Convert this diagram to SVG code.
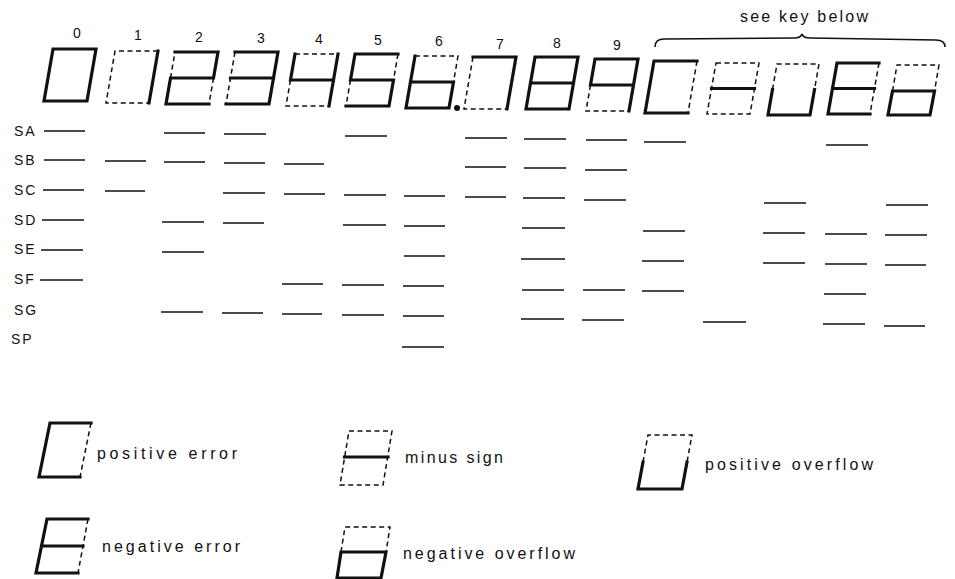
<svg xmlns="http://www.w3.org/2000/svg" width="955" height="579" viewBox="0 0 955 579">
<style>
  .on{fill:none;stroke:#111;stroke-width:3.2;stroke-linejoin:miter;stroke-linecap:square}
  .off{fill:none;stroke:#111;stroke-width:1.5;stroke-dasharray:5 3.5;stroke-linecap:butt}
  .row{stroke:#111;stroke-width:1.6;fill:none}
  .lbl{font-family:"Liberation Sans",Arial,sans-serif;font-size:14px;fill:#111;letter-spacing:2px}
  .num{font-family:"Liberation Sans",Arial,sans-serif;font-size:14px;fill:#111;text-anchor:middle}
  .key{font-family:"Liberation Sans",Arial,sans-serif;font-size:16px;fill:#111}
  .brace{fill:none;stroke:#111;stroke-width:1.6}
</style>
<rect width="955" height="579" fill="#fff"/>

<!-- column numbers -->
<g id="numbers">
  <text class="num" x="77" y="38">0</text>
  <text class="num" x="138" y="40">1</text>
  <text class="num" x="199" y="42">2</text>
  <text class="num" x="261" y="43">3</text>
  <text class="num" x="319" y="44">4</text>
  <text class="num" x="378" y="45">5</text>
  <text class="num" x="439" y="46">6</text>
  <text class="num" x="500" y="49">7</text>
  <text class="num" x="557" y="48">8</text>
  <text class="num" x="617" y="50">9</text>
</g>

<g id="see-key">
  <text class="key" x="740" y="22" font-size="15" textLength="128" lengthAdjust="spacing">see key below</text>
  <path class="brace" d="M655,47 Q655,39 664,39 L794,38 Q801,38 802,34 Q803,38 810,38 L936,40 Q945,40 945,47"/>
</g>

<!-- digits -->
<g id="digit-0" transform="translate(53,49)">
  <path class="on" d="M0,0 H43 L34,52 H-9 Z"/>
</g>
<g id="digit-1" transform="translate(115,51)">
  <path class="off" d="M43,0 H0 L-9,52 H34"/>
  <path class="on" d="M43,0 L34,52"/>
</g>
<g id="digit-2" transform="translate(175,52)">
  <path class="off" d="M-4.5,26 L0,0 M38.5,26 L34,52"/>
  <path class="on" d="M0,0 H43 L38.5,26 H-4.5 L-9,52 H34"/>
</g>
<g id="digit-3" transform="translate(235,52)">
  <path class="off" d="M0,0 L-9,52"/>
  <path class="on" d="M0,0 H43 L34,52 H-9 M-4.5,26 H38.5"/>
</g>
<g id="digit-4" transform="translate(295,54)">
  <path class="off" d="M0,0 H43 M-4.5,26 L-9,52 H34"/>
  <path class="on" d="M0,0 L-4.5,26 H38.5 M43,0 L34,52"/>
</g>
<g id="digit-5" transform="translate(355,54)">
  <path class="off" d="M43,0 L38.5,26 M-4.5,26 L-9,52"/>
  <path class="on" d="M43,0 H0 L-4.5,26 H38.5 L34,52 H-9"/>
</g>
<g id="digit-6" transform="translate(415,56)">
  <path class="off" d="M0,0 H43 L38.5,26"/>
  <path class="on" d="M0,0 L-9,52 H34 L38.5,26 H-4.5"/>
  <circle cx="42" cy="52" r="3" fill="#111"/>
</g>
<g id="digit-7" transform="translate(473,57)">
  <path class="off" d="M0,0 L-9,52 H34"/>
  <path class="on" d="M0,0 H43 L34,52"/>
</g>
<g id="digit-8" transform="translate(535,57)">
  <path class="on" d="M0,0 H43 L34,52 H-9 Z M-4.5,26 H38.5"/>
</g>
<g id="digit-9" transform="translate(595,59)">
  <path class="off" d="M-4.5,26 L-9,52 H34"/>
  <path class="on" d="M38.5,26 H-4.5 L0,0 H43 L34,52"/>
</g>
<g id="digit-pos-error" transform="translate(654,61)">
  <path class="off" d="M43,0 L34,52"/>
  <path class="on" d="M43,0 H0 L-9,52 H34"/>
</g>
<g id="digit-minus" transform="translate(716,63)">
  <path class="off" d="M0,0 H43 L34,51 H-9 Z"/>
  <path class="on" d="M-4.5,25.5 H38.5"/>
</g>
<g id="digit-pos-overflow" transform="translate(777,64)">
  <path class="off" d="M-4.5,25.5 L0,0 H42 L37.5,25.5"/>
  <path class="on" d="M-4.5,25.5 L-9,51 H33 L37.5,25.5"/>
</g>
<g id="digit-neg-error" transform="translate(837,63)">
  <path class="off" d="M42,0 L33,51"/>
  <path class="on" d="M42,0 H0 L-9,51 H33 M-4.5,25.5 H37.5"/>
</g>
<g id="digit-neg-overflow" transform="translate(897,65)">
  <path class="off" d="M-4.5,26 L0,0 H42 L37.5,26"/>
  <path class="on" d="M-4.5,26 H37.5 L33,50 H-9 Z"/>
</g>

<!-- row labels -->
<g id="row-labels">
  <text class="lbl" x="14" y="136">SA</text>
  <text class="lbl" x="14" y="165">SB</text>
  <text class="lbl" x="14" y="195">SC</text>
  <text class="lbl" x="14" y="225">SD</text>
  <text class="lbl" x="14" y="254">SE</text>
  <text class="lbl" x="14" y="284">SF</text>
  <text class="lbl" x="14" y="315">SG</text>
  <text class="lbl" x="11" y="344">SP</text>
</g>

<!-- segment table -->
<g id="table" class="row">
  <!-- col 0 -->
  <line x1="44" y1="131" x2="85" y2="131"/>
  <line x1="44" y1="160" x2="85" y2="160"/>
  <line x1="43" y1="190" x2="84" y2="190"/>
  <line x1="42" y1="220" x2="84" y2="220"/>
  <line x1="41" y1="250" x2="83" y2="250"/>
  <line x1="40" y1="280" x2="83" y2="280"/>
  <!-- col 1 -->
  <line x1="105" y1="161" x2="146" y2="161"/>
  <line x1="105" y1="191" x2="145" y2="191"/>
  <!-- col 2 -->
  <line x1="164" y1="133" x2="205" y2="133"/>
  <line x1="164" y1="162" x2="205" y2="162"/>
  <line x1="162" y1="222" x2="204" y2="222"/>
  <line x1="162" y1="252" x2="204" y2="252"/>
  <line x1="161" y1="312" x2="203" y2="312"/>
  <!-- col 3 -->
  <line x1="224" y1="134" x2="266" y2="134"/>
  <line x1="224" y1="163" x2="265" y2="163"/>
  <line x1="223" y1="193" x2="265" y2="193"/>
  <line x1="223" y1="223" x2="264" y2="223"/>
  <line x1="222" y1="313" x2="263" y2="313"/>
  <!-- col 4 -->
  <line x1="284" y1="164" x2="324" y2="164"/>
  <line x1="284" y1="194" x2="325" y2="194"/>
  <line x1="282" y1="284" x2="323" y2="284"/>
  <line x1="282" y1="314" x2="322" y2="314"/>
  <!-- col 5 -->
  <line x1="345" y1="136" x2="387" y2="136"/>
  <line x1="344" y1="195" x2="386" y2="195"/>
  <line x1="343" y1="225" x2="386" y2="225"/>
  <line x1="342" y1="285" x2="384" y2="285"/>
  <line x1="342" y1="315" x2="384" y2="315"/>
  <!-- col 6 -->
  <line x1="404" y1="196" x2="445" y2="196"/>
  <line x1="404" y1="226" x2="445" y2="226"/>
  <line x1="404" y1="256" x2="445" y2="256"/>
  <line x1="403" y1="286" x2="444" y2="286"/>
  <line x1="403" y1="316" x2="444" y2="316"/>
  <line x1="402" y1="347" x2="444" y2="347"/>
  <!-- col 7 -->
  <line x1="465" y1="138" x2="507" y2="138"/>
  <line x1="465" y1="167" x2="506" y2="167"/>
  <line x1="465" y1="197" x2="506" y2="197"/>
  <!-- col 8 -->
  <line x1="524" y1="139" x2="566" y2="139"/>
  <line x1="524" y1="168" x2="566" y2="168"/>
  <line x1="523" y1="198" x2="565" y2="198"/>
  <line x1="522" y1="228" x2="565" y2="228"/>
  <line x1="521" y1="259" x2="565" y2="259"/>
  <line x1="522" y1="290" x2="564" y2="290"/>
  <line x1="521" y1="319" x2="564" y2="319"/>
  <!-- col 9 -->
  <line x1="586" y1="140" x2="627" y2="140"/>
  <line x1="585" y1="170" x2="627" y2="170"/>
  <line x1="584" y1="200" x2="626" y2="200"/>
  <line x1="583" y1="290" x2="625" y2="290"/>
  <line x1="582" y1="320" x2="624" y2="320"/>
  <!-- col 10 -->
  <line x1="644" y1="142" x2="686" y2="142"/>
  <line x1="643" y1="231" x2="685" y2="231"/>
  <line x1="642" y1="261" x2="684" y2="261"/>
  <line x1="642" y1="291" x2="684" y2="291"/>
  <!-- col 11 -->
  <line x1="703" y1="322" x2="746" y2="322"/>
  <!-- col 12 -->
  <line x1="764" y1="203" x2="806" y2="203"/>
  <line x1="763" y1="233" x2="805" y2="233"/>
  <line x1="763" y1="263" x2="805" y2="263"/>
  <!-- col 13 -->
  <line x1="826" y1="145" x2="868" y2="145"/>
  <line x1="825" y1="234" x2="867" y2="234"/>
  <line x1="825" y1="264" x2="867" y2="264"/>
  <line x1="824" y1="294" x2="866" y2="294"/>
  <line x1="823" y1="324" x2="865" y2="324"/>
  <!-- col 14 -->
  <line x1="886" y1="205" x2="928" y2="205"/>
  <line x1="885" y1="235" x2="927" y2="235"/>
  <line x1="885" y1="265" x2="926" y2="265"/>
  <line x1="884" y1="326" x2="925" y2="326"/>
</g>

<!-- key -->
<g id="key-positive-error">
  <g transform="translate(50,423)">
    <path class="off" d="M41,0 L30,54"/>
    <path class="on" d="M41,0 H0 L-11,54 H30"/>
  </g>
  <text class="key" x="97" y="459" textLength="140" lengthAdjust="spacing">positive error</text>
</g>
<g id="key-negative-error">
  <g transform="translate(47,519)">
    <path class="off" d="M41,0 L31,54"/>
    <path class="on" d="M41,0 H0 L-11,54 H31 M-5.5,27 H36"/>
  </g>
  <text class="key" x="102" y="552" textLength="138" lengthAdjust="spacing">negative error</text>
</g>
<g id="key-minus-sign">
  <g transform="translate(349,431)">
    <path class="off" d="M0,0 H43 L34,54 H-9 Z"/>
    <path class="on" d="M-4.5,26 H39"/>
  </g>
  <text class="key" x="405" y="463" textLength="98" lengthAdjust="spacing">minus sign</text>
</g>
<g id="key-negative-overflow">
  <g transform="translate(345,527)">
    <path class="off" d="M-4,25 L0,0 H45 L41,25"/>
    <path class="on" d="M-4,25 H41 L36,51 H-8 Z"/>
  </g>
  <text class="key" x="403" y="559" textLength="172" lengthAdjust="spacing">negative overflow</text>
</g>
<g id="key-positive-overflow">
  <g transform="translate(648,435)">
    <path class="off" d="M-5,27 L0,0 H44 L39,27"/>
    <path class="on" d="M-5,27 L-10,54 H34 L39,27"/>
  </g>
  <text class="key" x="705" y="470" textLength="168" lengthAdjust="spacing">positive overflow</text>
</g>
</svg>
